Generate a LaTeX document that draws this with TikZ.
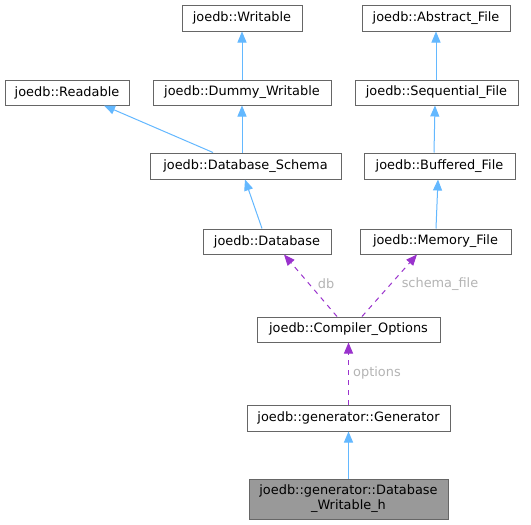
\documentclass[tikz,border=0pt]{standalone}
\usepackage{fontspec}
\setmainfont{DejaVu Sans}
\usetikzlibrary{arrows.meta}
\definecolor{edgeblue}{RGB}{99,184,255}
\definecolor{edgepurple}{RGB}{154,50,205}
\definecolor{boxgray}{RGB}{102,102,102}
\definecolor{fillgray}{RGB}{153,153,153}
\definecolor{labgray}{RGB}{180,180,180}
\begin{document}
\begin{tikzpicture}[x=1pt,y=-1pt,
  cls/.style={draw=boxgray,line width=1pt,fill=white,inner sep=0pt,font=\fontsize{12.9}{15}\selectfont,align=center},
  inh/.style={draw=edgeblue,line width=1pt,-{Triangle[length=11pt,width=9pt]}},
  use/.style={draw=edgepurple,line width=1pt,dash pattern=on 5pt off 5pt,-{Triangle[length=11pt,width=9pt]}},
  lab/.style={text=labgray,font=\fontsize{12.9}{15}\selectfont,inner sep=0pt}]
\useasboundingbox (0,0) rectangle (531,525);
\path[fill=white] (0,0) rectangle (531,525);
\node[cls,minimum width=120pt,minimum height=26pt] (wr) at (242,18) {joedb::Writable};
\node[cls,minimum width=148pt,minimum height=26pt] (af) at (436,18) {joedb::Abstract\_File};
\node[cls,minimum width=124pt,minimum height=25pt] (rd) at (67,92.5) {joedb::Readable};
\node[cls,minimum width=178pt,minimum height=25pt] (dw) at (242,92.5) {joedb::Dummy\_Writable};
\node[cls,minimum width=163pt,minimum height=25pt] (sf) at (436.5,92.5) {joedb::Sequential\_File};
\node[cls,minimum width=191pt,minimum height=26pt] (ds) at (245.5,166) {joedb::Database\_Schema};
\node[cls,minimum width=151pt,minimum height=26pt] (bf) at (439.5,166) {joedb::Buffered\_File};
\node[cls,minimum width=128pt,minimum height=25pt] (db) at (267,241.5) {joedb::Database};
\node[cls,minimum width=151pt,minimum height=25pt] (mf) at (435.5,241.5) {joedb::Memory\_File};
\node[cls,minimum width=183pt,minimum height=25pt] (co) at (348.5,329.5) {joedb::Compiler\_Options};
\node[cls,minimum width=203pt,minimum height=26pt] (ge) at (348.5,418) {joedb::generator::Generator};
\node[cls,fill=fillgray,minimum width=199pt,minimum height=40pt] (dh) at (348.5,499) {joedb::generator::Database\\\_Writable\_h};
% inheritance
\draw[inh] (dw.north) -- (wr.south);
\draw[inh] (sf.north -| af.south) -- (af.south);
\draw[inh] (ds.north -| 213,0) -- (rd.south -| 104,0);
\draw[inh] (ds.north -| dw.south) -- (dw.south);
\draw[inh] (bf.north -| 434,0) -- (sf.south -| 435,0);
\draw[inh] (mf.north -| 436,0) -- (bf.south -| 438,0);
\draw[inh] (db.north -| 262,0) -- (ds.south -| 245,0);
\draw[inh] (dh.north) -- (ge.south);
% usage
\draw[use] (co.north -| 337,0) -- (db.south -| 284,0);
\draw[use] (co.north -| 362,0) -- (mf.south -| 417,0);
\draw[use] (ge.north) -- (co.south);
\node[lab] (l1) at (326,284) {db};
\node[lab] (l2) at (440,284) {schema\_file};
\node[lab] (l3) at (377,373) {options};
\end{tikzpicture}
\end{document}
